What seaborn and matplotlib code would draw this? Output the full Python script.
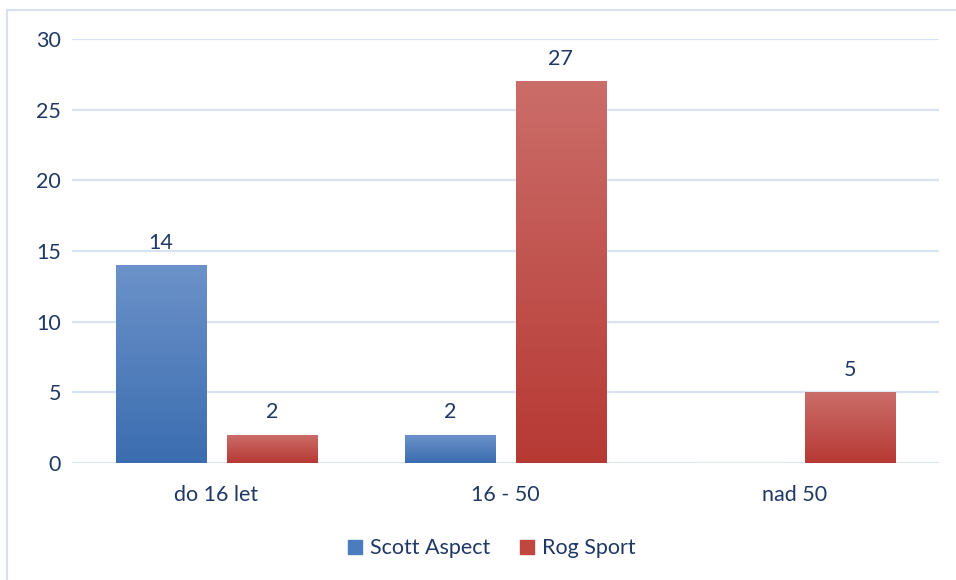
import numpy as np
import pandas as pd
import matplotlib.pyplot as plt
import seaborn as sns
from matplotlib.patches import Rectangle
from matplotlib.lines import Line2D

# -----------------------------
# Data
# -----------------------------
categories = ["do 16 let", "16 - 50", "nad 50"]
series_names = ["Scott Aspect", "Rog Sport"]
scott_values = [14, 2, 0]
rog_values = [2, 27, 5]
y_ticks = [0, 5, 10, 15, 20, 25, 30]

df = pd.DataFrame({
    "Kategorie": categories * 2,
    "Serie": [series_names[0]] * 3 + [series_names[1]] * 3,
    "Hodnota": scott_values + rog_values,
})

# -----------------------------
# Style
# -----------------------------
sns.set_theme(style="white")
plt.rcParams['font.family'] = ['Lato', 'DejaVu Sans']
text_color = "#1F3864"
grid_color = "#D9E2F3"
top_colors = {"Scott Aspect": "#6C92C9", "Rog Sport": "#CB6D69"}
bottom_colors = {"Scott Aspect": "#3B6DB0", "Rog Sport": "#B73934"}
mid_colors = {"Scott Aspect": "#4A7CBE", "Rog Sport": "#C0473F"}

fig = plt.figure(figsize=(9.56, 5.8), dpi=100)
ax = fig.add_axes([0.0753, 0.2017, 0.9069, 0.7311])

sns.barplot(data=df, x="Kategorie", y="Hodnota", hue="Serie",
            palette=mid_colors, width=0.765, gap=0.185, ax=ax,
            legend=False, zorder=3)

ax.set_ylim(0, 30)
ax.set_yticks(y_ticks)
ax.yaxis.grid(True, color=grid_color, linewidth=1.6, zorder=0)
ax.set_axisbelow(True)
for s in ax.spines.values():
    s.set_visible(False)
ax.axhline(0, color=grid_color, linewidth=1.8, zorder=1)
ax.set_xlabel("")
ax.set_ylabel("")
ax.tick_params(axis="both", length=0, labelsize=15.5, colors=text_color)
ax.tick_params(axis="y", pad=8)
ax.tick_params(axis="x", pad=16)
xlim = ax.get_xlim()

# vertical gradient on each bar + value labels
grad = np.linspace(0, 1, 256).reshape(-1, 1)
for container, name in zip(ax.containers, series_names):
    cmap = sns.blend_palette([bottom_colors[name], top_colors[name]], as_cmap=True)
    for patch in container:
        h = patch.get_height()
        if h <= 0:
            continue
        x0 = patch.get_x()
        w = patch.get_width()
        im = ax.imshow(grad, extent=[x0, x0 + w, 0, h], origin="lower",
                       cmap=cmap, aspect="auto", zorder=4)
        im.set_clip_path(patch)
        ax.annotate(f"{h:g}", (x0 + w / 2, h), xytext=(0, 9),
                    textcoords="offset points", ha="center", va="bottom",
                    fontsize=15.5, color=text_color)

ax.set_xlim(xlim)
ax.set_ylim(0, 30)

# legend
handles = [Line2D([0], [0], marker="s", linestyle="", markersize=9.5,
                  markerfacecolor=mid_colors[n], markeredgecolor=mid_colors[n])
           for n in series_names]
fig.legend(handles, series_names, loc="center", bbox_to_anchor=(0.514, 0.055),
           ncol=2, frameon=False, fontsize=15.5, handlelength=0.8,
           handletextpad=0.3, columnspacing=1.3, labelcolor=text_color)

# chart border
fig.patches.append(Rectangle((7 / 956, -0.05), 1.1, 1.05 - 10 / 580,
                             transform=fig.transFigure, fill=False,
                             edgecolor="#D6E0F0", linewidth=1.5))

fig.savefig("out.png", dpi=100)
